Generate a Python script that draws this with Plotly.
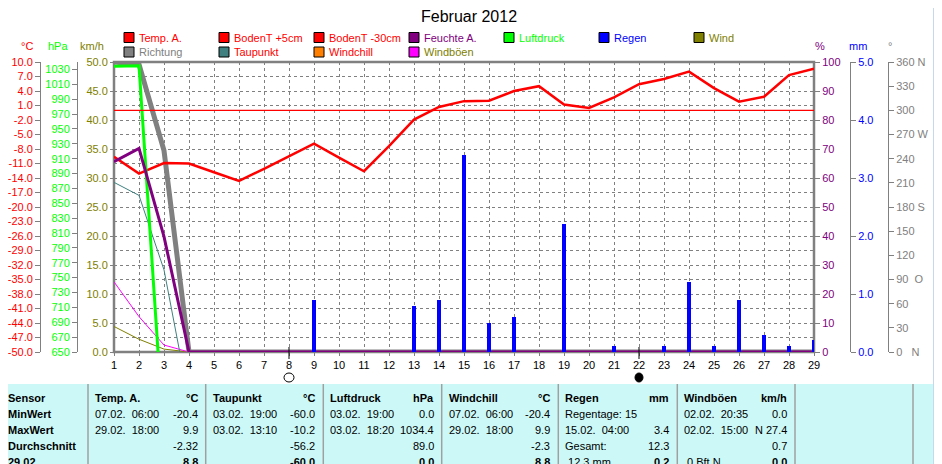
import plotly.graph_objects as go

# the page body has an 8px margin, so the figure is drawn 8px in from the corner
OFF = 8
W, H = 942 - OFF, 464 - OFF
FONT = "Liberation Sans, Arial, sans-serif"
GRID = "#808080"

# ---- data -----------------------------------------------------------------
days = list(range(1, 30))

temp_a = [-9.6, -13.1, -10.9, -11.0, -12.8, -14.6, -12.1, -9.5, -6.9, -9.8,
          -12.6, -7.4, -1.9, 0.7, 1.9, 2.0, 4.0, 5.0, 1.2, 0.5,
          2.7, 5.4, 6.5, 8.0, 4.6, 1.8, 2.8, 7.3, 8.6]
taupunkt = [-14.9, -17.6, -33.0, -60.0, -60.0, -60.0, -60.0, -60.0, -60.0, -60.0,
            -60.0, -60.0, -60.0, -60.0, -60.0, -60.0, -60.0, -60.0, -60.0, -60.0,
            -60.0, -60.0, -60.0, -60.0, -60.0, -60.0, -60.0, -60.0, -60.0]
luftdruck = [1034.4, 1035.0, 530.0, 0, 0, 0, 0, 0, 0, 0,
             0, 0, 0, 0, 0, 0, 0, 0, 0, 0,
             0, 0, 0, 0, 0, 0, 0, 0, 0]
feuchte = [65.6, 70.2, 39.8, 0, 0, 0, 0, 0, 0, 0,
           0, 0, 0, 0, 0, 0, 0, 0, 0, 0,
           0, 0, 0, 0, 0, 0, 0, 0, 0]
richtung = [360, 357, 250, 0, 0, 0, 0, 0, 0, 0,
            0, 0, 0, 0, 0, 0, 0, 0, 0, 0,
            0, 0, 0, 0, 0, 0, 0, 0, 0]
wind = [4.4, 2.2, 0.5, 0, 0, 0, 0, 0, 0, 0,
        0, 0, 0, 0, 0, 0, 0, 0, 0, 0,
        0, 0, 0, 0, 0, 0, 0, 0, 0]
windboeen = [12.1, 6.1, 1.2, 0, 0, 0, 0, 0, 0, 0,
             0, 0, 0, 0, 0, 0, 0, 0, 0, 0,
             0, 0, 0, 0, 0, 0, 0, 0, 0]
regen = [0, 0, 0, 0, 0, 0, 0, 0, 0.9, 0,
         0, 0, 0.8, 0.9, 3.4, 0.5, 0.6, 0, 2.2, 0,
         0.1, 0, 0.1, 1.2, 0.1, 0.9, 0.3, 0.1, 0.2]

moon_days = [8, 22]
moon_filled = [False, True]

# axis ticks
temp_ticks = [10, 7, 4, 1, -2, -5, -8, -11, -14, -17, -20, -23, -26, -29, -32,
              -35, -38, -41, -44, -47, -50]
hpa_ticks = [1030, 1010, 990, 970, 950, 930, 910, 890, 870, 850, 830, 810, 790,
             770, 750, 730, 710, 690, 670, 650]
kmh_ticks = [0, 5, 10, 15, 20, 25, 30, 35, 40, 45, 50]
pct_ticks = [0, 10, 20, 30, 40, 50, 60, 70, 80, 90, 100]
mm_ticks = [0, 1, 2, 3, 4, 5]
deg_ticks = [0, 30, 60, 90, 120, 150, 180, 210, 240, 270, 300, 330, 360]
deg_labels = ["0\u00a0\u00a0\u00a0N", "30", "60", "90\u00a0\u00a0O", "120", "150",
              "180\u00a0S", "210", "240", "270\u00a0W", "300", "330", "360\u00a0N"]

legend_names = ["Temp. A.", "BodenT +5cm", "BodenT -30cm", "Feuchte A.", "Luftdruck",
                "Regen", "Wind", "Richtung", "Taupunkt", "Windchill", "Windböen"]
legend_box = ["#ff0000", "#ff0000", "#ff0000", "#800080", "#00ff00",
              "#0000ff", "#808000", "#808080", "#408080", "#ff8000", "#ff00ff"]
legend_text = ["#ff0000", "#ff0000", "#ff0000", "#800080", "#00ff00",
               "#0000ff", "#808000", "#808080", "#ff0000", "#ff0000", "#808000"]

# summary table
row_labels = ["Sensor", "MinWert", "MaxWert", "Durchschnitt", "29.02."]
tab_sensor = ["Temp. A.", "Taupunkt", "Luftdruck", "Windchill", "Regen", "Windböen"]
tab_unit = ["°C", "°C", "hPa", "°C", "mm", "km/h"]
tab_min_txt = ["07.02.  06:00", "03.02.  19:00", "03.02.  19:00", "07.02.  06:00",
               "Regentage: 15", "02.02.  20:35"]
tab_min_val = ["-20.4", "-60.0", "0.0", "-20.4", "", "0.0"]
tab_max_txt = ["29.02.  18:00", "03.02.  13:10", "03.02.  18:20", "29.02.  18:00",
               "15.02.  04:00", "02.02.  15:00"]
tab_max_val = ["9.9", "-10.2", "1034.4", "9.9", "3.4", "N 27.4"]
tab_avg_txt = ["", "", "", "", "Gesamt:", ""]
tab_avg_val = ["-2.32", "-56.2", "89.0", "-2.3", "12.3", "0.7"]
tab_cur_txt = ["", "", "", "", " 12.3 mm", " 0 Bft N"]
tab_cur_val = ["8.8", "-60.0", "0.0", "8.8", "0.2", "0.0"]


# ---- helpers (screen pixels -> paper fractions) ----------------------------
def px_x(x):
    return (x - OFF) / W


def px_y(y):
    return 1 - (y - OFF) / H


X0, X1, Y0, Y1 = 114, 814, 62, 352   # plot frame in screen pixels


def side_axis(rng, vals, text, color, **kw):
    d = dict(range=rng, tickmode="array", tickvals=vals, ticktext=text,
             tickfont=dict(family=FONT, size=11, color=color),
             showgrid=False, zeroline=False, automargin=False,
             ticks="outside", ticklen=5, tickcolor=GRID,
             showline=True, linecolor=GRID, linewidth=1)
    d.update(kw)
    return d


# ---- traces ---------------------------------------------------------------
fig = go.Figure()
fig.add_trace(go.Scatter(x=days, y=wind, mode="lines", yaxis="y",
                         line=dict(color="#808000", width=1), name="Wind"))
fig.add_trace(go.Scatter(x=days, y=windboeen, mode="lines", yaxis="y",
                         line=dict(color="#ff00ff", width=1), name="Windböen"))
fig.add_trace(go.Scatter(x=days, y=richtung, mode="lines", yaxis="y2",
                         line=dict(color="#808080", width=5), name="Richtung"))
fig.add_trace(go.Scatter(x=days, y=taupunkt, mode="lines", yaxis="y3",
                         line=dict(color="#408080", width=1), name="Taupunkt"))
fig.add_trace(go.Scatter(x=days, y=temp_a, mode="lines", yaxis="y3",
                         line=dict(color="#ff0000", width=2.5), name="Temp. A."))
fig.add_trace(go.Scatter(x=days, y=luftdruck, mode="lines", yaxis="y4",
                         line=dict(color="#00ff00", width=3), name="Luftdruck"))
fig.add_trace(go.Scatter(x=days, y=feuchte, mode="lines", yaxis="y5",
                         line=dict(color="#800080", width=3), name="Feuchte A."))
fig.add_trace(go.Bar(x=days, y=regen, yaxis="y6", width=0.16,
                     marker=dict(color="#0000ff", line=dict(width=0)), name="Regen"))

# ---- shapes ---------------------------------------------------------------
shapes = [
    # table background and scrollbar
    dict(type="rect", xref="paper", yref="paper", x0=px_x(0), x1=px_x(933),
         y0=px_y(470), y1=px_y(384), fillcolor="#ccf9f8", line=dict(width=0),
         layer="below"),
    dict(type="rect", xref="paper", yref="paper", x0=px_x(933), x1=px_x(945),
         y0=px_y(470), y1=px_y(0), fillcolor="#c4d8ee", line=dict(width=0),
         layer="below"),
    dict(type="rect", xref="paper", yref="paper", x0=px_x(X0), x1=px_x(X1),
         y0=px_y(Y1), y1=px_y(Y0), line=dict(color=GRID, width=2.5), layer="below"),
    dict(type="line", xref="x", yref="y3", x0=1, x1=29, y0=0, y1=0,
         line=dict(color="#ff0000", width=1.2), layer="above"),
]
seps = [88, 205.7, 323.3, 441.7, 558.3, 677.3, 795, 913]
for s in seps:
    shapes.append(dict(type="line", xref="paper", yref="paper", x0=px_x(s), x1=px_x(s),
                       y0=px_y(470), y1=px_y(384), line=dict(color="#a0a0a0", width=1.5)))

for d, filled in zip(moon_days, moon_filled):
    shapes.append(dict(type="line", xref="x", yref="paper", x0=d, x1=d,
                       y0=px_y(359), y1=px_y(347), line=dict(color="black", width=1)))
    r = 0.16 if filled else 0.2
    shapes.append(dict(type="circle", xref="x", yref="paper", x0=d - r, x1=d + r,
                       y0=px_y(382), y1=px_y(373),
                       fillcolor="black" if filled else "white",
                       line=dict(color="black", width=1)))

# ---- annotations ----------------------------------------------------------
ann = []


def label(text, x, y, color="black", size=11, anchor="center"):
    ann.append(dict(text=text, x=px_x(x), y=px_y(y), xref="paper", yref="paper",
                    xanchor=anchor, yanchor="middle", showarrow=False,
                    font=dict(family=FONT, size=size, color=color)))


label("Februar 2012", 469, 16.5, size=16)

units = [("°C", 27, "#ff0000"), ("hPa", 58, "#00ff00"), ("km/h", 92, "#808000"),
         ("%", 820, "#800080"), ("mm", 858, "#0000ff"), ("°", 890, "#808080")]
for t, x, c in units:
    label(t, x, 46, color=c)

for i, (name, bc, tc) in enumerate(zip(legend_names, legend_box, legend_text)):
    col, row = (i, 0) if i < 7 else (i - 7, 1)
    bx = 124 + 95 * col
    by = 37.5 + 14.5 * row
    shapes.append(dict(type="rect", xref="paper", yref="paper",
                       x0=px_x(bx), x1=px_x(bx + 10), y0=px_y(by + 5), y1=px_y(by - 5),
                       fillcolor=bc, line=dict(color="black", width=1)))
    label(name, bx + 13, by, color=tc, anchor="left")

row_y = [397.5, 413.7, 430, 446, 462]


def cell(text, x, y, anchor, bold=False):
    if text:
        label(f"<b>{text}</b>" if bold else text, x, y, anchor=anchor)


for lbl, y in zip(row_labels, row_y):
    cell(lbl, 6, y, "left", bold=True)

for i in range(6):
    lx, rx = seps[i] + 5, seps[i + 1] - 6
    cols = [(tab_sensor[i], tab_unit[i], True, True),
            (tab_min_txt[i], tab_min_val[i], False, False),
            (tab_max_txt[i], tab_max_val[i], False, False),
            (tab_avg_txt[i], tab_avg_val[i], False, False),
            (tab_cur_txt[i], tab_cur_val[i], False, True)]
    for (lt, rt, lb, rb), y in zip(cols, row_y):
        cell(lt, lx, y, "left", bold=lb)
        cell(rt, rx, y, "right", bold=rb)

# ---- layout ---------------------------------------------------------------
fig.update_layout(
    width=W, height=H, autosize=False,
    margin=dict(l=0, r=0, t=0, b=0),
    paper_bgcolor="white", plot_bgcolor="white",
    showlegend=False, bargap=0,
    font=dict(family=FONT, size=11),
    xaxis=dict(domain=[px_x(X0), px_x(X1)], range=[1, 29], tickmode="array",
               tickvals=days, ticktext=[str(d) for d in days],
               showgrid=True, gridcolor=GRID, gridwidth=1, griddash="3px,3px",
               zeroline=False, automargin=False, showline=False,
               ticks="outside", ticklen=3, tickcolor=GRID,
               tickfont=dict(family=FONT, size=11, color="black")),
    yaxis=dict(domain=[px_y(Y1), px_y(Y0)], range=[0, 50], tickmode="array",
               tickvals=kmh_ticks, ticktext=[f"{v:.1f}" for v in kmh_ticks],
               tickfont=dict(family=FONT, size=11, color="#808000"),
               showgrid=True, gridcolor=GRID, gridwidth=1, griddash="3px,3px",
               minor=dict(tick0=0, dtick=2.5, showgrid=True, gridcolor=GRID,
                          gridwidth=1, griddash="3px,3px", ticks=""),
               zeroline=False, automargin=False, showline=False,
               ticks="outside", ticklen=3, tickcolor=GRID),
    yaxis2=side_axis([0, 360], deg_ticks, deg_labels, "#808080",
                     overlaying="y", anchor="free", position=px_x(888), side="right"),
    yaxis3=side_axis([-50, 10], temp_ticks, [f"{v:.1f}" for v in temp_ticks], "#ff0000",
                     overlaying="y", anchor="free", position=px_x(40), side="left"),
    yaxis4=side_axis([650, 1040], hpa_ticks, [str(v) for v in hpa_ticks], "#00ff00",
                     overlaying="y", anchor="free", position=px_x(77), side="left"),
    yaxis5=side_axis([0, 100], pct_ticks, [str(v) for v in pct_ticks], "#800080",
                     overlaying="y", anchor="x", side="right", showline=False),
    yaxis6=side_axis([0, 5], mm_ticks, [f"{v:.1f}" for v in mm_ticks], "#0000ff",
                     overlaying="y", anchor="free", position=px_x(850), side="right"),
    shapes=shapes,
    annotations=ann,
)

fig.write_html("out.html")
